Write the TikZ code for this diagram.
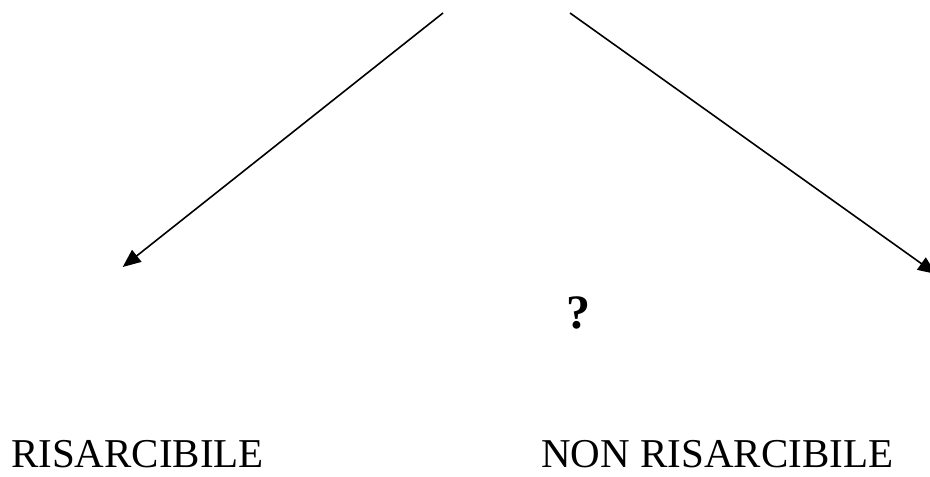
\documentclass[tikz,border=0pt]{standalone}
\usepackage{fontspec}
\setmainfont{Liberation Serif}
\usetikzlibrary{arrows.meta}
\begin{document}
\begin{tikzpicture}[x=1pt,y=-1pt,
  conn/.style={line width=1.6pt,-{Triangle[length=18pt,width=15pt]}},
  lbl/.style={inner sep=0pt,anchor=base west,font=\fontsize{41}{49}\selectfont}]
\useasboundingbox (0,0) rectangle (930,477);
\coordinate (lstart) at (443,13);
\coordinate (lend) at (122.7,267);
\coordinate (rstart) at (570,13);
\coordinate (rend) at (936,274);
\draw[conn] (lstart) -- (lend);
\draw[conn] (rstart) -- (rend);
\node[inner sep=0pt,anchor=base,font=\fontsize{48}{56}\selectfont\bfseries] (q) at (578,328) {?};
\node[lbl] (ris) at (11,467) {RISARCIBILE};
\node[lbl] (nonris) at (541,467) {NON RISARCIBILE};
\end{tikzpicture}
\end{document}
